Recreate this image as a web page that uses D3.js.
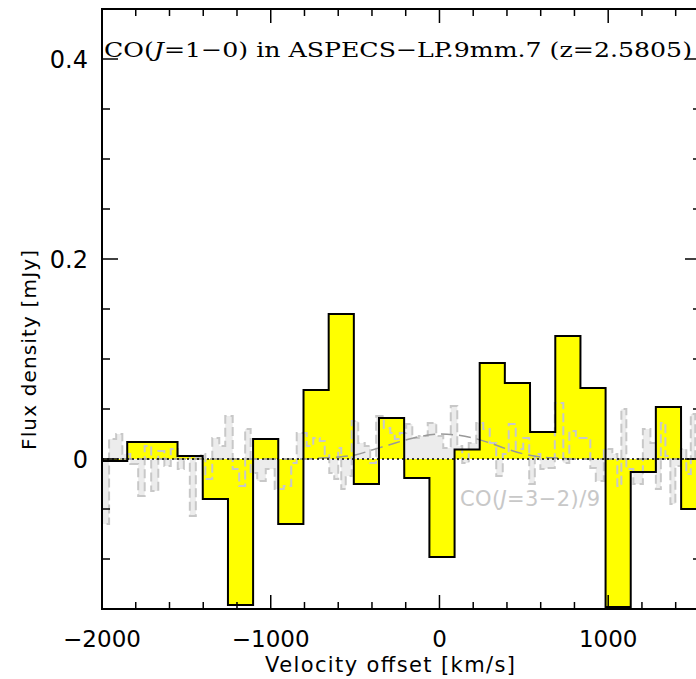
<!DOCTYPE html>
<html>
<head>
<meta charset="utf-8">
<script src="https://cdn.jsdelivr.net/npm/d3@7"></script>
<style>
	body { margin: 0; background: #fff; }
	svg { display: block; }
	text { font-family: "DejaVu Sans", sans-serif; }
</style>
</head>
<body>
<div id="chart"></div>
<script>
// CO(1-0) binned spectrum (bin centres in km/s, flux in mJy)
var binCenters = [-1925, -1776, -1627, -1478, -1328, -1179, -1030, -881, -731, -582, -433, -284,
	-134, 15, 164, 313, 462, 612, 761, 910, 1059, 1208, 1357, 1507]
var binFlux = [-0.002, 0.017, 0.017, 0.003, -0.040, -0.146, 0.020, -0.065, 0.069, 0.145, -0.025, 0.041,
	-0.019, -0.098, 0.0095, 0.096, 0.076, 0.027, 0.123, 0.071, -0.148, -0.013, 0.052, -0.050]
var binWidth = 149.2

// CO(3-2)/9 high resolution spectrum
var grayVel = [-1984, -1932, -1900, -1859, -1806, -1765, -1729, -1688, -1645, -1616, -1569, -1533,
	-1497, -1462, -1426, -1402, -1373, -1320, -1290, -1249, -1202, -1172, -1131, -1107, -1053, -1006,
	-947, -899, -858, -834, -805, -769, -727, -692, -668, -638, -609, -591, -573, -538, -502, -461,
	-425, -396, -354, -306, -277, -253, -218, -176, -146, -99, -40, 2, 43, 91, 120, 150, 197, 239,
	280, 316, 357, 393, 428, 476, 517, 547, 583, 613, 654, 713, 755, 784, 832, 879, 909, 944, 1004,
	1045, 1063, 1093, 1122, 1176, 1235, 1265, 1300, 1324, 1354, 1383, 1413, 1448, 1478, 1501, 1531]
var grayFlux = [-0.065, 0.020, 0.025, 0.005, -0.005, -0.037, 0.013, -0.032, 0.008, -0.007, 0.010, -0.010,
	0.003, -0.057, 0.002, 0.005, -0.020, 0.021, 0.013, 0.043, -0.010, -0.027, 0.030, -0.014, -0.022, -0.010,
	-0.030, -0.027, -0.004, 0.026, 0.026, 0.013, 0.021, 0.018, 0.005, -0.014, -0.020, 0.011, -0.030, -0.017, 0.038, 0.016,
	0.013, -0.004, 0.043, 0.031, 0.026, 0.020, 0.026, 0.035, 0.021, 0.023, 0.036, 0.023, 0.011, 0.053, 0.013, -0.004, 0.016, 0.036,
	0.030, 0.016, -0.017, 0.005, 0.035, 0.010, 0.021, -0.025, 0.005, -0.010, -0.009, 0.056, -0.004, 0.028, 0.021, 0.021, -0.009, -0.022, 0.010,
	0.005, -0.027, 0.050, -0.010, -0.025, 0.030, 0.016, -0.030, 0.036, 0.003, -0.045, -0.007, 0.010, -0.015, 0.045, 0.000]

// gaussian fit to CO(3-2)/9
var gaussVel = [-2000, -800, -700, -600, -500, -400, -300, -200, -100, 0, 100, 200, 300, 400, 500, 600, 700, 800, 1550]
var gaussFlux = [0, 0, 0.001, 0.002, 0.004, 0.009, 0.014, 0.019, 0.023, 0.025, 0.024, 0.021, 0.016, 0.010, 0.005, 0.002, 0.001, 0, 0]

var xMajor = [-2000, -1000, 0, 1000]
var yMajor = [0, 0.2, 0.4];

(function() {
	var width = 696
	var height = 679
	var mLeft = 102, mRight = 701, mTop = 9, mBottom = 609

	var svg = d3.select('#chart').append('svg')
		.attr('width', width)
		.attr('height', height)

	var x = d3.scaleLinear().domain([-2000, 1550]).range([mLeft, mRight])
	var y = d3.scaleLinear().domain([-0.15, 0.45]).range([mBottom, mTop])

	svg.append('clipPath').attr('id', 'plot')
		.append('rect')
		.attr('x', mLeft).attr('y', mTop)
		.attr('width', mRight - mLeft).attr('height', mBottom - mTop)

	var plot = svg.append('g').attr('clip-path', 'url(#plot)')

	// step points for a histogram
	function steps(lo, hi, vals) {
		var pts = []
		vals.forEach(function(v, i) {
			pts.push([lo[i], v])
			pts.push([hi[i], v])
		})
		return pts
	}

	var binPts = steps(
		binCenters.map(function(c) { return c - binWidth / 2 }),
		binCenters.map(function(c) { return c + binWidth / 2 }),
		binFlux)

	var grayLo = grayVel.map(function(v, i) { return i === 0 ? -2050 : (grayVel[i - 1] + v) / 2 })
	var grayHi = grayVel.map(function(v, i) { return i === grayVel.length - 1 ? 1600 : (grayVel[i + 1] + v) / 2 })
	var grayPts = steps(grayLo, grayHi, grayFlux)

	var area = d3.area()
		.x(function(d) { return x(d[0]) })
		.y0(y(0))
		.y1(function(d) { return y(d[1]) })
	var line = d3.line()
		.x(function(d) { return x(d[0]) })
		.y(function(d) { return y(d[1]) })

	plot.append('path')
		.attr('d', area(grayPts))
		.attr('fill', '#ececec')

	plot.append('path')
		.attr('d', area(binPts))
		.attr('fill', '#ffff00')

	plot.append('path')
		.attr('d', line(grayPts))
		.attr('fill', 'none')
		.attr('stroke', '#c8c8c8')
		.attr('stroke-width', 2)
		.attr('stroke-dasharray', '9,4')

	plot.append('path')
		.attr('d', d3.line()
			.x(function(d) { return x(d) })
			.y(function(d, i) { return y(gaussFlux[i]) })
			.curve(d3.curveMonotoneX)(gaussVel))
		.attr('fill', 'none')
		.attr('stroke', '#999')
		.attr('stroke-width', 1.5)
		.attr('stroke-dasharray', '12,6')

	plot.append('path')
		.attr('d', line(binPts))
		.attr('fill', 'none')
		.attr('stroke', '#000')
		.attr('stroke-width', 2)

	plot.append('line')
		.attr('x1', mLeft).attr('x2', mRight)
		.attr('y1', y(0)).attr('y2', y(0))
		.attr('stroke', '#000')
		.attr('stroke-width', 1.5)
		.attr('stroke-dasharray', '2,3')

	// frame and ticks
	svg.append('rect')
		.attr('x', mLeft).attr('y', mTop)
		.attr('width', mRight - mLeft).attr('height', mBottom - mTop)
		.attr('fill', 'none')
		.attr('stroke', '#000')
		.attr('stroke-width', 2)

	var xTicks = d3.range(-2000, 1551, 200)
	var yTicks = d3.range(-0.15, 0.451, 0.05).map(function(v) { return Math.round(v * 100) / 100 })
	var ticks = svg.append('g').attr('stroke', '#000').attr('stroke-width', 1.5)

	xTicks.forEach(function(v) {
		var len = xMajor.indexOf(v) >= 0 ? 14 : 7
		ticks.append('line').attr('x1', x(v)).attr('x2', x(v)).attr('y1', mBottom).attr('y2', mBottom - len)
		ticks.append('line').attr('x1', x(v)).attr('x2', x(v)).attr('y1', mTop).attr('y2', mTop + len)
	})
	yTicks.forEach(function(v) {
		var len = yMajor.indexOf(v) >= 0 ? 16 : 8
		ticks.append('line').attr('x1', mLeft).attr('x2', mLeft + len).attr('y1', y(v)).attr('y2', y(v))
		ticks.append('line').attr('x1', mRight).attr('x2', mRight - len).attr('y1', y(v)).attr('y2', y(v))
	})

	svg.selectAll('.xlab')
		.data(xMajor)
		.enter().append('text')
		.attr('x', function(d) { return x(d) })
		.attr('y', 647)
		.attr('text-anchor', 'middle')
		.style('font-size', '23px')
		.text(function(d) { return d < 0 ? '\u2212' + Math.abs(d) : d })

	svg.selectAll('.ylab')
		.data(yMajor)
		.enter().append('text')
		.attr('x', 88)
		.attr('y', function(d) { return y(d) + 9 })
		.attr('text-anchor', 'end')
		.style('font-size', '24px')
		.text(function(d) { return d === 0 ? '0' : d.toFixed(1) })

	svg.append('text')
		.attr('x', 390).attr('y', 672)
		.attr('text-anchor', 'middle')
		.attr('textLength', 250)
		.style('font-size', '21px')
		.text('Velocity offset [km/s]')

	svg.append('text')
		.attr('transform', 'translate(36,350) rotate(-90)')
		.attr('text-anchor', 'middle')
		.attr('textLength', 200)
		.style('font-size', '20px')
		.text('Flux density [mJy]')

	var title = svg.append('text')
		.attr('x', 104).attr('y', 57)
		.attr('textLength', 588)
		.attr('lengthAdjust', 'spacingAndGlyphs')
		.style('font-family', '"DejaVu Serif", serif')
		.style('font-size', '21px')
	title.append('tspan').text('CO(')
	title.append('tspan').style('font-style', 'italic').text('J')
	title.append('tspan').text('=1\u22120) in ASPECS\u2212LP.9mm.7 (z=2.5805)')

	var note = svg.append('text')
		.attr('x', 460).attr('y', 506)
		.attr('textLength', 140)
		.attr('fill', '#c8c8c8')
		.style('font-size', '21px')
	note.append('tspan').text('CO(')
	note.append('tspan').style('font-style', 'italic').text('J')
	note.append('tspan').text('=3\u22122)/9')
})()
</script>
</body>
</html>
